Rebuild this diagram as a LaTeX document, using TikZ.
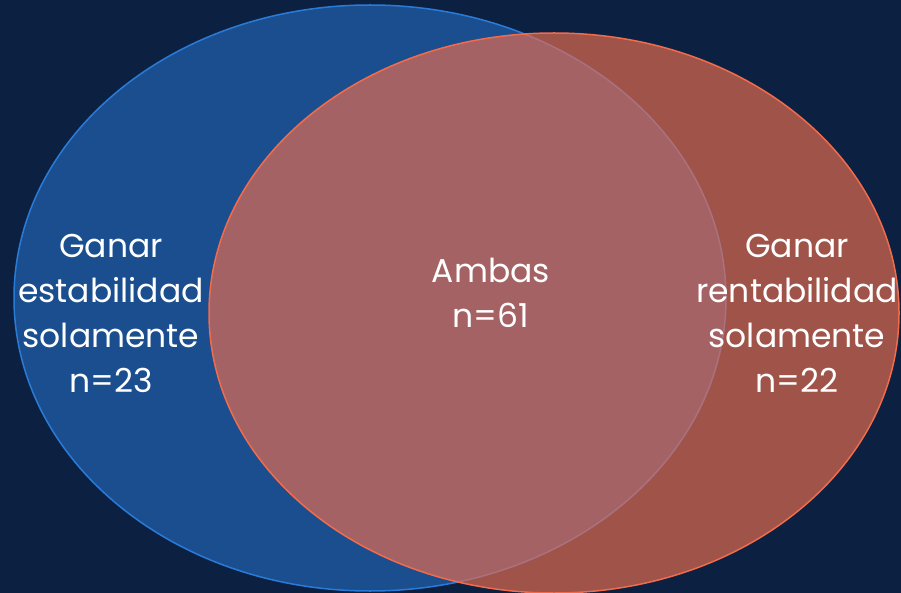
\documentclass[tikz,border=0pt]{standalone}
\usepackage{fontspec}
\setmainfont{Poppins}
\definecolor{bg}{HTML}{0C2142}
\definecolor{bluefill}{HTML}{1A4E8F}
\definecolor{bluestroke}{HTML}{2A7BD8}
\definecolor{redfill}{HTML}{EC6D4E}
\definecolor{redstroke}{HTML}{F26B4B}
\begin{document}
\begin{tikzpicture}[x=1pt,y=-1pt,
  lbl/.style={text=white,align=center,inner sep=0pt,font=\fontsize{33}{45}\selectfont}]
\fill[bg] (0,0) rectangle (901,593);
\useasboundingbox (0,0) rectangle (901,593);
\begin{scope}
\clip (0,0) rectangle (901,593);
\draw[bluestroke,line width=1.5pt,fill=bluefill] (370,298) ellipse [x radius=356,y radius=293];
\draw[redstroke,line width=1.5pt,fill=redfill,fill opacity=0.66] (554,313) ellipse [x radius=345,y radius=280];
\end{scope}
\node[lbl] (left) at (111,313) {Ganar\\estabilidad\\solamente\\n=23};
\node[lbl] (right) at (797,313) {Ganar\\rentabilidad\\solamente\\n=22};
\node[lbl] (mid) at (491,293) {Ambas\\n=61};
\end{tikzpicture}
\end{document}
